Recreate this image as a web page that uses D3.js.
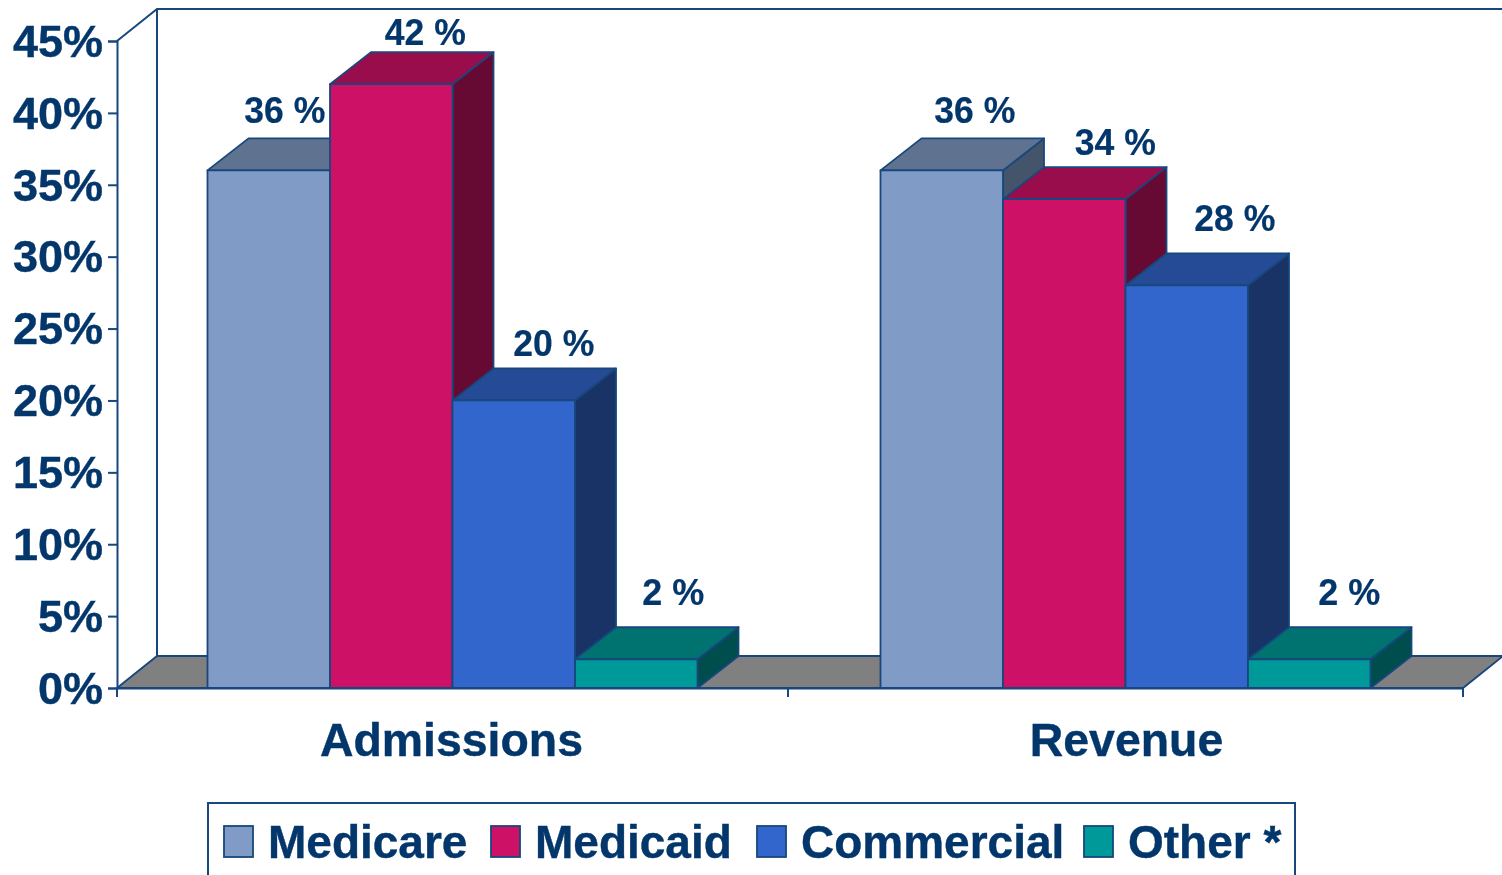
<!doctype html>
<html lang="en">
<head>
  <meta charset="utf-8">
  <script src="https://cdnjs.cloudflare.com/ajax/libs/d3/7.8.5/d3.min.js"></script>
  <style>
    html, body { margin: 0; padding: 0; background: #fff; overflow: hidden; }
    svg { display: block; filter: blur(0.45px); }
    text { font-family: "Liberation Sans", Arial, sans-serif; font-weight: bold; fill: #03366b; stroke: #03366b; stroke-width: 0.4px; }
  </style>
</head>
<body>
<div id="view"></div>
<script>
var categories = ["Admissions", "Revenue"];
var seriesNames = ["Medicare", "Medicaid", "Commercial", "Other *"];
var admissions = [36, 42, 20, 2];
var revenue = [36, 34, 28, 2];
var yTicks = [0, 5, 10, 15, 20, 25, 30, 35, 40, 45];

var frontColors = ["#809bc6", "#cc1166", "#3366cc", "#009999"];
var topColors = ["#5f7290", "#990d4d", "#254a96", "#007370"];
var sideColors = ["#44546a", "#660a33", "#1a3366", "#004d4d"];

// the value labels were placed by hand in the original, offset from each bar's centre / back edge
var labelDx = [[16, 34, 40, 37], [33, 51, 48, 40]];
var labelDy = [[-15, -7, -12, -22], [-15, -12, -22, -22]];

var lineColor = "#17477d";
var depthX = 40, depthY = 32;
var barDepthX = 41;

var svg = d3.select("#view").append("svg")
  .attr("width", 1502)
  .attr("height", 875);

var y = d3.scaleLinear().domain([0, 45]).range([688, 41]);
var x0 = d3.scaleBand().domain(categories).range([117, 1463]);
var x1 = d3.scaleBand().domain(seriesNames).range([90.5, x0.bandwidth() - 92.5]);

// walls + floor
var left = x0.range()[0], right = x0.range()[1];
svg.append("path")
  .attr("d", "M" + left + "," + y(45) + "L" + (left + depthX) + "," + (y(45) - depthY) +
    "L" + (right + depthX) + "," + (y(45) - depthY) + "L" + (right + depthX) + "," + (y(0) - depthY))
  .attr("fill", "none").attr("stroke", lineColor).attr("stroke-width", 2);
svg.append("line")
  .attr("x1", left + depthX).attr("x2", left + depthX)
  .attr("y1", y(45) - depthY).attr("y2", y(0) - depthY)
  .attr("stroke", lineColor).attr("stroke-width", 2);
svg.append("polygon")
  .attr("points", [[left, y(0)], [left + depthX, y(0) - depthY], [right + depthX, y(0) - depthY], [right, y(0)]].join(" "))
  .attr("fill", "#808080").attr("stroke", lineColor).attr("stroke-width", 1.8);

// y axis
var yAxis = svg.append("g")
  .attr("transform", "translate(" + left + ",0)")
  .call(d3.axisLeft(y).tickValues(yTicks).tickSize(9).tickPadding(5).tickFormat(function(d){ return d + "%"; }));
yAxis.selectAll("path, line").attr("stroke", lineColor).attr("stroke-width", 2);
yAxis.selectAll("text").attr("font-size", 45).attr("dy", "0.34em").attr("font-family", null);

// x axis, labels come from the band scale
var xAxis = svg.append("g")
  .attr("transform", "translate(0," + y(0) + ")")
  .call(d3.axisBottom(x0).tickSize(0).tickPadding(35));
xAxis.select("path").attr("stroke", lineColor).attr("stroke-width", 2);
xAxis.selectAll("text").attr("font-size", 46.4).attr("dy", "0.71em").attr("font-family", null);
xAxis.selectAll("text").filter(function(d){ return d === "Admissions"; }).attr("dx", -2);

// group boundary ticks
svg.selectAll(".bound").data(categories.concat("end")).enter().append("line")
  .attr("class", "bound")
  .attr("x1", function(d, i){ return left + i * x0.step() - (i === 1 ? 2 : 0); })
  .attr("x2", function(d, i){ return left + i * x0.step() - (i === 1 ? 2 : 0); })
  .attr("y1", y(0)).attr("y2", y(0) + 9)
  .attr("stroke", lineColor).attr("stroke-width", 2);

// bars, painted left to right so each one covers the side of the last
[admissions, revenue].forEach(function(values, g){
  var group = svg.append("g").attr("transform", "translate(" + x0(categories[g]) + ",0)");
  values.forEach(function(v, i){
    var a = x1(seriesNames[i]), w = x1.bandwidth(), t = y(v), b = y(0);
    var bar = group.append("g");
    bar.append("polygon")
      .attr("points", [[a + w, t], [a + w + barDepthX, t - depthY], [a + w + barDepthX, b - depthY], [a + w, b]].join(" "))
      .attr("fill", sideColors[i]);
    bar.append("polygon")
      .attr("points", [[a, t], [a + barDepthX, t - depthY], [a + w + barDepthX, t - depthY], [a + w, t]].join(" "))
      .attr("fill", topColors[i]);
    bar.append("rect")
      .attr("x", a).attr("y", t).attr("width", w).attr("height", b - t)
      .attr("fill", frontColors[i]);
    bar.selectAll("polygon, rect")
      .attr("stroke", lineColor).attr("stroke-width", 1.8).attr("stroke-linejoin", "round");
  });
});

// value labels on top of all bars
[admissions, revenue].forEach(function(values, g){
  values.forEach(function(v, i){
    svg.append("text")
      .attr("x", x0(categories[g]) + x1(seriesNames[i]) + x1.bandwidth() / 2 + labelDx[g][i])
      .attr("y", y(v) - depthY + labelDy[g][i])
      .attr("text-anchor", "middle")
      .attr("font-size", 36)
      .attr("textLength", v < 10 ? 62 : 81)
      .attr("lengthAdjust", "spacingAndGlyphs")
      .style("stroke-width", "0.2px")
      .text(v + " %");
  });
});

// legend
var legendX = [224, 491, 757, 1084];
svg.append("rect")
  .attr("x", 208).attr("y", 803).attr("width", 1087).attr("height", 100)
  .attr("fill", "#fff").attr("stroke", lineColor).attr("stroke-width", 2);
var legend = svg.selectAll(".legend").data(seriesNames).enter().append("g")
  .attr("class", "legend")
  .attr("transform", function(d, i){ return "translate(" + legendX[i] + ",0)"; });
legend.append("rect")
  .attr("y", 826).attr("width", 29).attr("height", 31)
  .attr("fill", function(d, i){ return frontColors[i]; })
  .attr("stroke", lineColor).attr("stroke-width", 1.8);
legend.append("text")
  .attr("x", 44).attr("y", 858)
  .attr("font-size", 46)
  .text(function(d){ return d; });
</script>
</body>
</html>
